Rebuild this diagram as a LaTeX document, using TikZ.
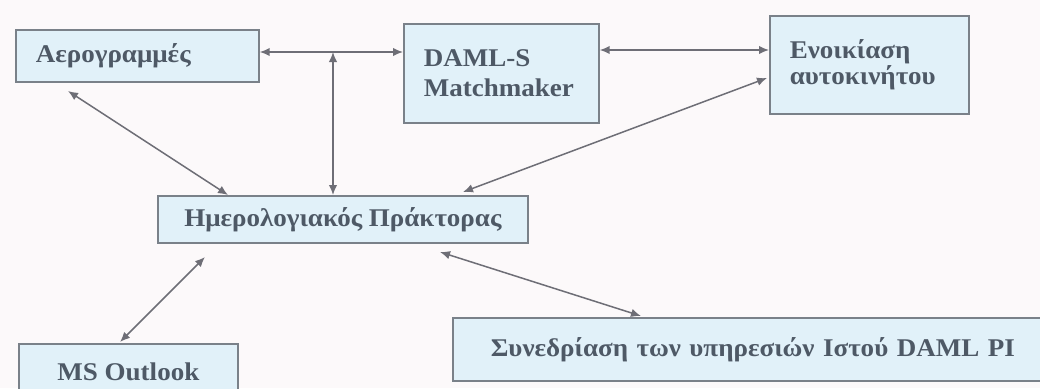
\documentclass[tikz,border=0pt]{standalone}
\usepackage{fontspec}
\setmainfont[FakeStretch=1.06]{Liberation Serif}
\usetikzlibrary{arrows.meta,calc}
\definecolor{bg}{HTML}{FCF9FA}
\definecolor{boxfill}{HTML}{E1F1F9}
\definecolor{boxline}{HTML}{7A8189}
\definecolor{txt}{HTML}{4E5966}
\definecolor{wire}{HTML}{6E6E76}
\begin{document}
\begin{tikzpicture}[x=1pt,y=-1pt,
  box/.style={draw=boxline, fill=boxfill, line width=1.7pt, anchor=north west,
    inner ysep=0pt, font=\fontsize{25.5}{29}\selectfont\bfseries, text=txt},
  leftbox/.style={box, align=left, inner xsep=20pt},
  centrebox/.style={box, align=center, inner xsep=0pt},
  link/.style={draw=wire, line width=1.5pt,
    {Latex[length=10pt,width=8.5pt]}-{Latex[length=10pt,width=8.5pt]}}]

% page
\fill[bg] (0,0) rectangle (1040,388);
\useasboundingbox (0,0) rectangle (1040,388);

% services and agent
\node[leftbox, minimum width=243pt, minimum height=52pt, text width=203pt]
  (air) at (15,29) {Αερογραμμές};
\node[leftbox, minimum width=195pt, minimum height=99pt, text width=155pt]
  (daml) at (403,23) {DAML-S\\[1pt]Matchmaker\\[12pt]};
\node[leftbox, minimum width=199pt, minimum height=98pt, text width=159pt]
  (car) at (769,15) {Ενοικίαση\\[-3pt]αυτοκινήτου\\[9pt]};
\node[centrebox, minimum width=370pt, minimum height=47pt]
  (cal) at (157,195) {Ημερολογιακός Πράκτορας};
\node[centrebox, minimum width=219pt, minimum height=56pt]
  (outlook) at (18,343) {MS Outlook};
\node[centrebox, minimum width=600pt, minimum height=63pt, text width=560pt]
  (pi) at (452,317) {Συνεδρίαση των υπηρεσιών Ιστού DAML PI};

% endpoints of the links
\coordinate (top) at (333,52);
\coordinate (right) at (0,50);
\coordinate (airend) at (68,91);
\coordinate (calA) at (228,195);
\coordinate (carend) at (767,78);
\coordinate (calB) at (463,192);
\coordinate (calC) at (205,257);
\coordinate (outend) at (120,342);
\coordinate (calD) at (440,252);
\coordinate (piend) at (641,316);

% links
\draw[link] (air.east |- top) -- (daml.west |- top);
\draw[link] (top) -- (top |- cal.north);
\draw[link] (daml.east |- right) -- (car.west |- right);
\draw[link] (airend) -- (calA);
\draw[link] (carend) -- (calB);
\draw[link] (outend) -- (calC);
\draw[link] (piend) -- (calD);
\end{tikzpicture}
\end{document}
